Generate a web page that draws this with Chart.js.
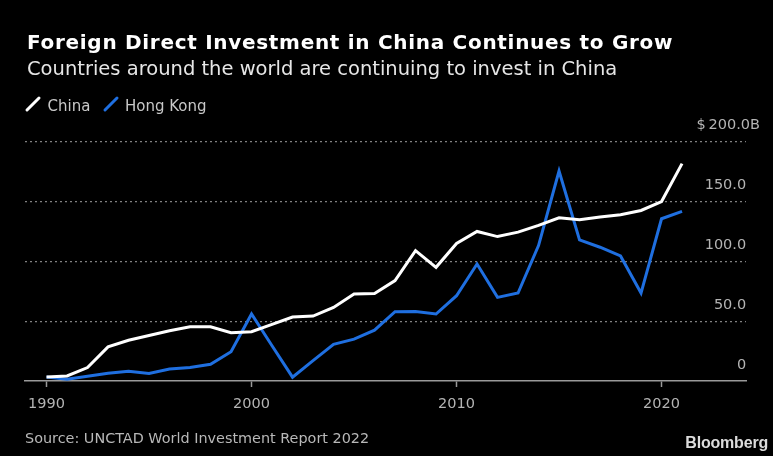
<!DOCTYPE html>
<html>
<head>
<meta charset="utf-8">
<script src="https://cdn.jsdelivr.net/npm/chart.js@4"></script>
<style>
  html, body { margin: 0; padding: 0; background: #000; }
  #wrap { position: relative; width: 773px; height: 456px; background: #000; overflow: hidden; }
  #chart { position: absolute; left: 0; top: 0; }
  .t { position: absolute; white-space: nowrap; line-height: 1; }
  #title { left: 27px; top: 29.8px; font: bold 20px "DejaVu Sans"; color: #fff; letter-spacing: 0.7px; }
  #subtitle { left: 27px; top: 56.8px; font: 19.5px "DejaVu Sans"; color: #e6e6e6; }
  .leg { top: 96.5px; font: 15px "DejaVu Sans"; color: #c8c8c8; }
  #legChina { left: 47.5px; }
  #legHK { left: 125px; }
  .sw { position: absolute; top: 95px; }
  #source { left: 25px; top: 429.5px; font: 14.4px "DejaVu Sans"; color: #b8b8b8; }
  #brand { right: 5px; top: 434px; font: bold 16px "Liberation Sans"; color: #dcdcdc; letter-spacing: -0.2px; }
</style>
</head>
<body>
<div id="wrap">
  <canvas id="chart" width="773" height="456"></canvas>
  <div class="t" id="title">Foreign Direct Investment in China Continues to Grow</div>
  <div class="t" id="subtitle">Countries around the world are continuing to invest in China</div>
  <svg class="sw" style="left:24px" width="18" height="18"><line x1="3" y1="15" x2="15" y2="3" stroke="#ffffff" stroke-width="3" stroke-linecap="round"/></svg>
  <div class="t leg" id="legChina">China</div>
  <svg class="sw" style="left:101.5px" width="18" height="18"><line x1="3" y1="15" x2="15" y2="3" stroke="#1f6fe0" stroke-width="3" stroke-linecap="round"/></svg>
  <div class="t leg" id="legHK">Hong Kong</div>
  <div class="t" id="source">Source: UNCTAD World Investment Report 2022</div>
  <div class="t" id="brand">Bloomberg</div>
</div>
<script>
// Annual FDI inflows, billions of US dollars
const years = [1990, 1991, 1992, 1993, 1994, 1995, 1996, 1997, 1998, 1999,
               2000, 2001, 2002, 2003, 2004, 2005, 2006, 2007, 2008, 2009,
               2010, 2011, 2012, 2013, 2014, 2015, 2016, 2017, 2018, 2019,
               2020, 2021];
const china = [3.4, 4.2, 11.2, 28.5, 34, 38, 42, 45.3, 45.3, 40.4,
               41.2, 47.3, 53.5, 54.3, 61.5, 72.7, 73.2, 83.9, 109, 95,
               115, 125, 120.7, 124.4, 130, 136.4, 134.7, 137, 139, 142.5,
               150, 181.7];
const hongKong = [3.4, 1.4, 4.0, 6.5, 8.2, 6.2, 10, 11.2, 14, 24.5,
                  56, 29.5, 3.2, 17, 30.7, 35, 42.5, 57.9, 58, 56,
                  71.3, 97.8, 69.9, 73.5, 113.2, 175.5, 118, 111.8, 104.5, 73.5,
                  135.6, 141.7];
const xTickYears = [1990, 2000, 2010, 2020];
const yTickValues = [0, 50, 100, 150, 200];

const toPoints = vals => years.map((yr, i) => ({ x: yr, y: vals[i] }));
const tickFont = { family: 'DejaVu Sans', size: 14.5 };
// the top label carries the unit and currency; the others are padded so their digits line up
const yLabel = v => v === 200 ? '$\u2009200.0B' : (v === 0 ? '0' : v.toFixed(1)) + '\u2007 ';

new Chart(document.getElementById('chart'), {
  type: 'line',
  data: {
    datasets: [
      { label: 'China', data: toPoints(china), borderColor: '#ffffff', borderWidth: 3,
        pointRadius: 0, tension: 0, clip: false },
      { label: 'Hong Kong', data: toPoints(hongKong), borderColor: '#1f6fe0', borderWidth: 3,
        pointRadius: 0, tension: 0, clip: false }
    ]
  },
  options: {
    responsive: false,
    devicePixelRatio: 1,
    animation: false,
    layout: { padding: { left: 25, right: 27, top: 141.7, bottom: 33.6 } },
    plugins: { legend: { display: false }, title: { display: false }, tooltip: { enabled: false } },
    scales: {
      x: {
        type: 'linear',
        min: 1988.95,
        max: 2024.12,
        afterBuildTicks: s => { s.ticks = xTickYears.map(v => ({ value: v })); },
        ticks: { callback: v => String(v), color: '#b4b4b4', font: tickFont, padding: 9,
                 maxRotation: 0, autoSkip: false },
        grid: { display: true, drawOnChartArea: false, drawTicks: true, tickLength: 6,
                tickColor: '#9a9a9a', tickWidth: 1.5 },
        border: { display: true, color: '#9a9a9a', width: 1.5 }
      },
      y: {
        position: 'right',
        min: 0,
        max: 200,
        afterBuildTicks: s => { s.ticks = yTickValues.map(v => ({ value: v })); },
        afterFit: s => { s.width = 0; },
        ticks: {
          mirror: true, padding: 14, labelOffset: -16, color: '#b4b4b4', font: tickFont,
          callback: yLabel
        },
        grid: { drawTicks: false, lineWidth: 1.2,
                color: c => (c.tick && c.tick.value === 0) ? 'rgba(0,0,0,0)' : '#808080' },
        border: { display: false, dash: [2, 3] }
      }
    }
  }
});
</script>
</body>
</html>
